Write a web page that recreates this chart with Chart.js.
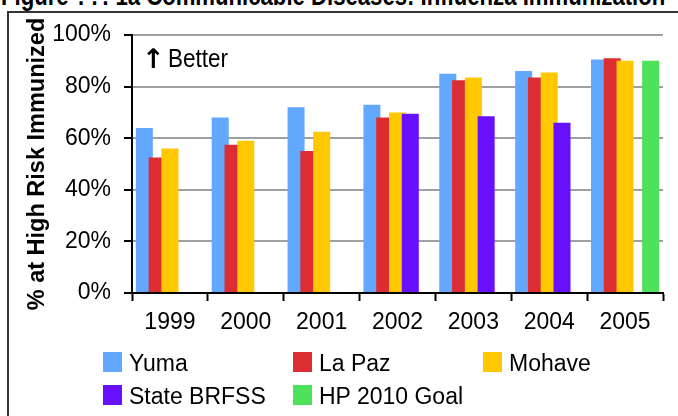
<!DOCTYPE html>
<html>
<head>
<meta charset="utf-8">
<script src="https://cdn.jsdelivr.net/npm/chart.js@4.4.0/dist/chart.umd.min.js"></script>
<style>
  body { margin: 0; background: #fff; }
  #wrap { position: relative; width: 678px; height: 416px; overflow: hidden; font-family: "Liberation Sans", Arial, sans-serif; }
  #titulo { position: absolute; left: 1px; top: -17px; font: bold 27px/27px "Liberation Sans", sans-serif; white-space: nowrap; transform: scaleX(0.82); transform-origin: 0 0; }
  #moldura { position: absolute; left: 7px; top: 11px; width: 700px; height: 450px; border-left: 2px solid #333; border-top: 2px solid #333; }
  canvas { position: absolute; left: 0; top: 0; }
  #legenda { position: absolute; left: 103px; top: 352px; display: grid; grid-template-columns: 190px 190px 190px; row-gap: 13px; font-size: 23px; }
  .item { display: flex; height: 20px; line-height: 20px; white-space: nowrap; }
  .caixa { width: 19px; height: 20px; margin-right: 7px; flex: none; }
  .item span { padding-top: 1px; }
</style>
</head>
<body>
<div id="wrap">
  <div id="titulo">Figure ??: 1a Communicable Diseases: Influenza Immunization</div>
  <div id="moldura"></div>
  <canvas id="grafico" width="678" height="416"></canvas>
  <div id="legenda"></div>
</div>
<script>
// dados (% vacinados)
const anos = ['1999', '2000', '2001', '2002', '2003', '2004', '2005'];
const yuma = [64, 68, 72, 73, 85, 86, 90.5];
const laPaz = [52.5, 57.5, 55, 68, 82.5, 83.5, 91];
const mohave = [56, 59, 62.5, 70, 83.5, 85.5, 90];
const brfss = [null, null, null, 69.5, 68.5, 66, null];
const meta2010 = [null, null, null, null, null, null, 90];
const rotulosY = ['0%', '20%', '40%', '60%', '80%', '100%'];

const nomes = ['Yuma', 'La Paz', 'Mohave', 'State BRFSS', 'HP 2010 Goal'];
const cores = ['#63a8ff', '#dc2d33', '#ffc800', '#6610ff', '#4de25a'];
const series = [yuma, laPaz, mohave, brfss, meta2010];

// barras da direita por cima das da esquerda (como no Excel)
const ordemDesenho = {
    id: 'ordemDesenho',
    beforeDatasetDraw() { return false; },
    afterDatasetsDraw(chart) {
        chart.data.datasets.forEach((ds, i) => {
            const meta = chart.getDatasetMeta(i);
            if (!meta.hidden) meta.controller.draw();
        });
    }
};

// texto "↑Better" (fonte estreita simulada com scale)
const textoMelhor = {
    id: 'textoMelhor',
    afterDraw(chart) {
        const { ctx, chartArea } = chart;
        ctx.save();
        ctx.fillStyle = '#000';
        ctx.textBaseline = 'alphabetic';
        ctx.font = 'bold 27px "DejaVu Sans"';
        ctx.fillText('↑', chartArea.left + 10, 68);
        ctx.translate(chartArea.left + 36, 67);
        ctx.scale(0.85, 1);
        ctx.font = '26.5px "Liberation Sans"';
        ctx.fillText('Better', 0, 0);
        ctx.restore();
    }
};

const ctx = document.getElementById('grafico').getContext('2d');
const grafico = new Chart(ctx, {
    type: 'bar',
    data: {
        labels: anos,
        datasets: series.map((dados, i) => ({
            label: nomes[i],
            data: dados,
            backgroundColor: cores[i],
            borderWidth: 0,
            categoryPercentage: 0.843,
            barPercentage: 1.33
        }))
    },
    options: {
        responsive: false,
        animation: false,
        layout: {
            padding: { top: 35, right: 15, bottom: 81, left: 0 }
        },
        plugins: {
            legend: { display: false },
            tooltip: { enabled: false }
        },
        scales: {
            x: {
                ticks: {
                    color: '#000',
                    font: { family: 'Liberation Sans', size: 23 },
                    padding: 8
                },
                grid: {
                    drawOnChartArea: false,
                    offset: true,
                    tickColor: '#000',
                    tickLength: 8,
                    tickWidth: 2
                },
                border: { color: '#000', width: 2 },
                afterFit(s) { s.height = 42; }
            },
            y: {
                min: 0,
                max: 100,
                ticks: {
                    stepSize: 20,
                    color: '#000',
                    padding: 13,
                    font: { family: 'Liberation Sans', size: 23 },
                    callback: (v, i) => rotulosY[i]
                },
                grid: {
                    color: '#a0a0a0',
                    lineWidth: 2,
                    tickColor: '#000',
                    tickLength: 8,
                    tickWidth: 2
                },
                border: { color: '#000', width: 2 },
                title: {
                    display: true,
                    text: '% at High Risk Immunized',
                    color: '#000',
                    font: { family: 'Liberation Sans', size: 23.5, weight: 'bold' },
                    padding: { top: 23, bottom: 0 }
                },
                afterFit(s) { s.width = 132; }
            }
        }
    },
    plugins: [ordemDesenho, textoMelhor]
});

// legenda em grade, 3 colunas
const legenda = document.getElementById('legenda');
nomes.forEach((nome, i) => {
    const item = document.createElement('div');
    item.className = 'item';
    item.innerHTML = '<div class="caixa" style="background:' + cores[i] + '"></div><span>' + nome + '</span>';
    legenda.appendChild(item);
});
</script>
</body>
</html>
